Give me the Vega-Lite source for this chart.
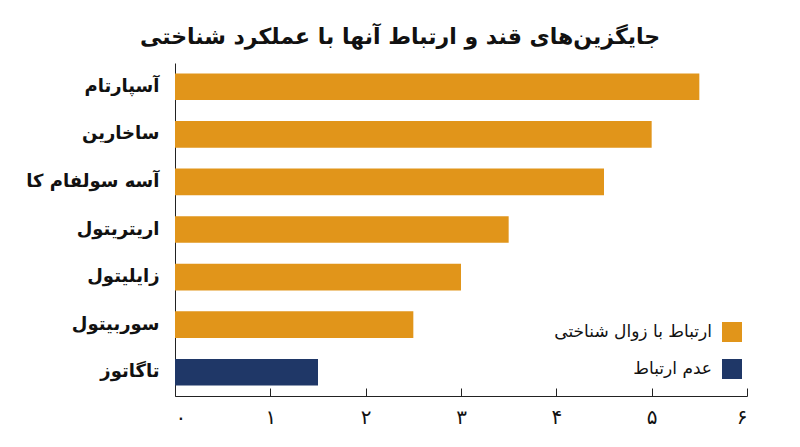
{
  "$schema": "https://vega.github.io/schema/vega-lite/v6.json",
  "width": 572,
  "height": 333,
  "autosize": {"type": "none"},
  "padding": {"left": 175, "top": 63, "right": 53, "bottom": 51},
  "background": "white",
  "view": {"stroke": null},
  "title": {
    "text": "جایگزین‌های قند و ارتباط آنها با عملکرد شناختی",
    "font": "DejaVu Sans",
    "fontSize": 22,
    "fontWeight": "bold",
    "color": "#111111",
    "anchor": "middle",
    "dx": -61,
    "offset": 14
  },
  "data": {
    "values": [
      {"name": "آسپارتام", "value": 5.5, "group": "ارتباط با زوال شناختی"},
      {"name": "ساخارین", "value": 5.0, "group": "ارتباط با زوال شناختی"},
      {"name": "آسه سولفام کا", "value": 4.5, "group": "ارتباط با زوال شناختی"},
      {"name": "اریتریتول", "value": 3.5, "group": "ارتباط با زوال شناختی"},
      {"name": "زایلیتول", "value": 3.0, "group": "ارتباط با زوال شناختی"},
      {"name": "سوربیتول", "value": 2.5, "group": "ارتباط با زوال شناختی"},
      {"name": "تاگاتوز", "value": 1.5, "group": "عدم ارتباط"}
    ]
  },
  "mark": {"type": "bar"},
  "encoding": {
    "y": {
      "field": "name",
      "type": "nominal",
      "sort": null,
      "scale": {"paddingInner": 0.44, "paddingOuter": 0.22},
      "axis": {
        "title": null,
        "ticks": false,
        "domainColor": "#222222",
        "labelFont": "DejaVu Sans",
        "labelFontSize": 18,
        "labelFontWeight": "bold",
        "labelColor": "#111111",
        "labelPadding": 16
      }
    },
    "x": {
      "field": "value",
      "type": "quantitative",
      "scale": {"domain": [0, 6]},
      "axis": {
        "title": null,
        "grid": false,
        "values": [0, 1, 2, 3, 4, 5, 6],
        "tickSize": -8,
        "domainColor": "#222222",
        "tickColor": "#222222",
        "labelExpr": "['۰','۱','۲','۳','۴','۵','۶'][datum.value]",
        "labelFont": "DejaVu Sans",
        "labelFontSize": 20,
        "labelColor": "#111111",
        "labelPadding": 19
      }
    },
    "color": {
      "field": "group",
      "type": "nominal",
      "scale": {
        "domain": ["ارتباط با زوال شناختی", "عدم ارتباط"],
        "range": ["#E1951A", "#1F3767"]
      },
      "legend": {
        "title": null,
        "orient": "none",
        "legendX": 547,
        "legendY": 259,
        "symbolType": "square",
        "symbolSize": 400,
        "symbolStrokeWidth": 0,
        "symbolOpacity": 1,
        "labelAlign": "right",
        "labelOffset": -30,
        "labelFont": "DejaVu Sans",
        "labelFontSize": 17,
        "labelColor": "#111111",
        "rowPadding": 17
      }
    }
  }
}
